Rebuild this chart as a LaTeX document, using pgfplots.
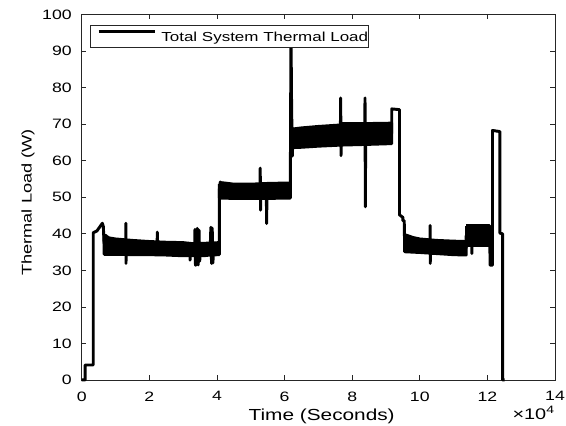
\documentclass[border=0pt]{standalone}
\usepackage{fontspec}
\setmainfont{Liberation Sans}[FakeStretch=1.3]
\usepackage{pgfplots}
\pgfplotsset{compat=1.18}
\begin{document}
\begin{tikzpicture}
\begin{axis}[
  scale only axis, width=355pt, height=274pt,
  xmin=0, xmax=140000, ymin=0, ymax=100,
  xtick={0,20000,40000,60000,80000,100000,120000,140000},
  xticklabels={0,2,4,6,8,10,12,14},
  scaled x ticks=false,
  ytick={0,10,...,100},
  /pgf/number format/assume math mode=true,
  tick align=inside, major tick length=3.5pt,
  axis line style={black!85, line width=0.6pt},
  every tick/.style={black!85, line width=0.6pt},
  clip=false,
  xticklabel style={font=\fontsize{10.2}{12}\selectfont, inner sep=0pt, anchor=north, yshift=-8.5pt},
  yticklabel style={font=\fontsize{10.2}{12}\selectfont, inner sep=0pt, anchor=east, xshift=-7.3pt},
  xlabel={Time (Seconds)},
  xlabel style={font=\fontsize{12}{14}\selectfont, at={(axis description cs:0.5,0)}, anchor=base, yshift=-30.75pt, xshift=2.5pt, inner sep=0pt},
  ylabel={Thermal Load (W)},
  ylabel style={font=\fontsize{10.5}{12}\selectfont, at={(axis description cs:-0.1056,0.486)}, anchor=base, inner sep=0pt},
  legend style={at={(axis description cs:0,1)}, anchor=north west, xshift=6pt, yshift=-7.7pt, draw=black!85, line width=0.6pt, fill=white, inner sep=0pt, font=\fontsize{9.8}{11}\selectfont, nodes={inner sep=0pt, text height=11.9pt, text depth=4.8pt}},
  legend image code/.code={\draw[line width=2.2pt] (0pt,3.5pt) -- (42.5pt,3.5pt); \path (-5.25pt,0pt) (46pt,0pt);},
]
% dense oscillation bands (envelopes)
\addplot[black, fill=black, line width=2.2pt, line join=round, forget plot] coordinates {
(6600,39.5)(7000,39.6)(8000,38.9)(10000,38.6)(15000,38.2)(20000,37.9)(25000,37.7)(30000,37.6)(33000,37.3)(36000,37.4)(40700,37.6)
(40700,34.3)(38000,34.2)(36000,34.0)(33000,34.0)(30000,34.0)(25000,34.2)(20000,34.3)(15000,34.3)(10000,34.4)(6600,34.4)(6600,39.5)};
\addplot[black, fill=black, line width=2.2pt, line join=round, forget plot] coordinates {
(40700,53.6)(41500,54.0)(45000,53.6)(50000,53.6)(55000,53.8)(60000,53.9)(61700,53.9)
(61700,49.8)(55000,49.7)(50000,49.7)(45000,49.7)(40700,49.8)(40700,53.6)};
\addplot[black, fill=black, line width=2.2pt, line join=round, forget plot] coordinates {
(62400,68.7)(65000,69.0)(70000,69.4)(76500,69.8)(76800,70.2)(85000,70.2)(91700,70.3)
(91700,64.7)(85000,64.5)(76800,64.3)(70000,64.0)(65000,63.7)(62400,63.6)(62400,68.7)};
\addplot[black, fill=black, line width=2.2pt, line join=round, forget plot] coordinates {
(95500,39.8)(98000,39.0)(100000,38.6)(105000,38.2)(110000,38.0)(113700,37.9)
(113700,34.2)(110000,34.3)(105000,34.6)(100000,34.9)(95500,35.1)(95500,39.8)};
\addplot[black, fill=black, line width=2.2pt, line join=round, forget plot] coordinates {
(113700,42.2)(120700,42.2)(120700,36.9)(113700,36.9)(113700,42.2)};
% main trace
\addplot[black, line width=2.2pt, line join=round] coordinates {
(0,0)(1000,0)(1000,4.1)(3400,4.1)(3400,40.3)(4500,40.8)(6100,42.9)(6400,42.0)(6600,37.5)(8000,36.5)
(13000,36.3)(13050,42.9)(13100,31.9)(13150,36.2)
(22300,36)(22350,40.5)(22400,36)
(32000,35.8)(32050,32.8)(32100,35.8)
(33400,35.8)(33500,41.2)(33650,31.4)(33800,41.0)(33950,31.5)(34200,41.5)(34450,31.5)(34700,41.0)(34900,32.5)(35100,35.8)
(38000,35.8)(38200,41.8)(38400,31.9)(38600,41.6)(38800,32.0)(39000,35.8)
(40700,35.8)(40700,52)(41000,54.2)(42000,52)
(52700,51.8)(52800,58.0)(52900,46.5)(53000,51.8)
(54600,51.8)(54700,42.8)(54800,51.8)
(61700,52)(61900,96)(62100,72.5)(62300,66.5)(62300,61.3)(62400,66.8)
(76500,67.3)(76600,77.2)(76700,61.4)(76800,67.3)
(83700,67.5)(83800,77.2)(83900,47.4)(84000,67.5)
(91700,67.5)(91700,74.2)(94000,74.0)(94000,45.2)(95000,44.5)(95000,43.6)(95400,43.6)(95500,37.5)
(103000,36.8)(103050,42.3)(103100,31.9)(103150,36.5)
(113700,36.2)(113700,39.5)(115300,39.5)(115400,34.6)(115500,39.5)
(120700,39.5)(120800,31.4)(121500,31.4)(121500,68.3)(123700,68.0)(123700,40.2)(124500,40.0)(124500,0)(125100,0)};
\addlegendentry{Total System Thermal Load\hspace{8.25pt}}
\node[anchor=base east, inner sep=0pt, font=\fontsize{11.5}{13}\selectfont, yshift=-29.5pt] at (rel axis cs:1,0) {×10\textsuperscript{4}};
\end{axis}
\pgfresetboundingbox
\path ([xshift=-61.3pt,yshift=-34.5pt]current axis.south west) rectangle ([xshift=8.25pt,yshift=11pt]current axis.north east);
\end{tikzpicture}
\end{document}
